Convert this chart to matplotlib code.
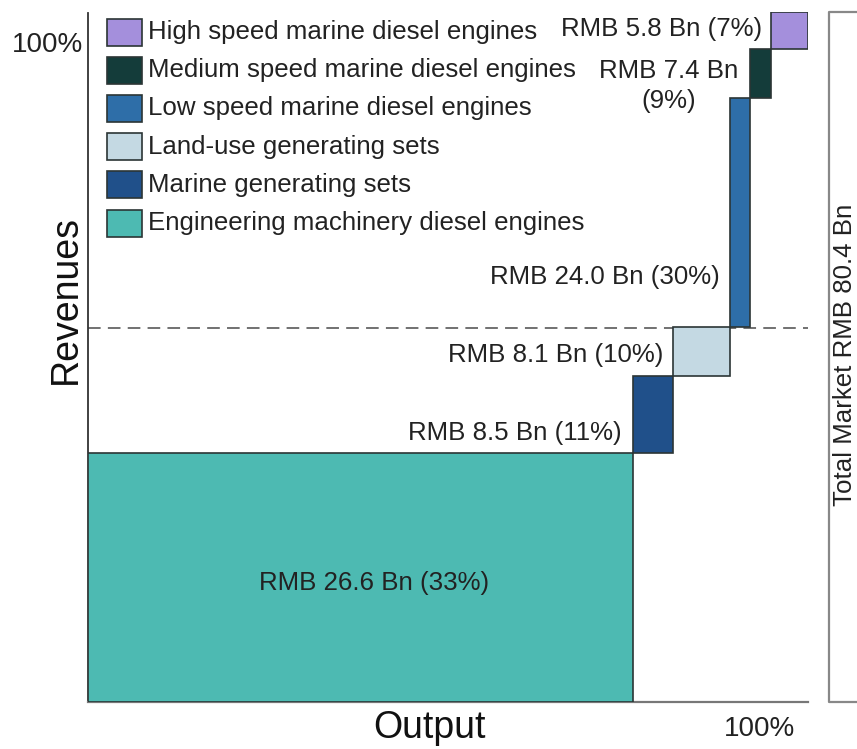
import matplotlib
matplotlib.use("Agg")
import matplotlib.pyplot as plt
from matplotlib.patches import Rectangle
import numpy as np

plt.rcParams['font.family'] = ['Liberation Sans', 'DejaVu Sans']

# dane: udzial w produkcji (szerokosc) i w przychodach (wysokosc)
categories = ["Engineering machinery diesel engines", "Marine generating sets",
              "Land-use generating sets", "Low speed marine diesel engines",
              "Medium speed marine diesel engines", "High speed marine diesel engines"]
output_share = [0.757, 0.056, 0.079, 0.028, 0.028, 0.052]
revenue_share = [0.361, 0.112, 0.070, 0.332, 0.071, 0.054]
revenue_bn = [26.6, 8.5, 8.1, 24.0, 7.4, 5.8]
revenue_pct = [33, 11, 10, 30, 9, 7]
colors = ["#4dbab2", "#20508a", "#c4d9e3", "#2e6ea8", "#143c3a", "#a48fdc"]
total_bn = 80.4
threshold = 0.542  # linia przerywana

W, H = 857, 749
fs = 18.6
fig = plt.figure(figsize=(W / 100, H / 100), dpi=100)
ax = fig.add_axes([88 / W, 47 / H, 720 / W, 690 / H])
ax.set_xlim(0, 1)
ax.set_ylim(0, 1)

x_left = np.concatenate([[0], np.cumsum(output_share)[:-1]])
y_bottom = np.concatenate([[0], np.cumsum(revenue_share)[:-1]])

for x0, y0, w, h, c in zip(x_left, y_bottom, output_share, revenue_share, colors):
    ax.add_patch(Rectangle((x0, y0), w, h, facecolor=c, edgecolor="#2b3535", lw=1.2, zorder=3))

ax.axhline(threshold, color="#666666", lw=1.3, ls=(0, (7, 4)), zorder=2)

# etykiety (przesuniecia w pikselach od rogu prostokata)
text_kw = dict(fontsize=fs, color="#222222", textcoords="offset pixels", va="center")
labels = [f"RMB {v:.1f} Bn ({p}%)" for v, p in zip(revenue_bn, revenue_pct)]
ax.annotate(labels[0], (x_left[0] + output_share[0] / 2, revenue_share[0] / 2),
            xytext=(14, -6), ha="center", **text_kw)
ax.annotate(labels[1], (x_left[1], y_bottom[1]), xytext=(-11, 20), ha="right", **text_kw)
ax.annotate(labels[2], (x_left[2], y_bottom[2]), xytext=(-10, 21), ha="right", **text_kw)
ax.annotate(labels[3], (x_left[3], y_bottom[3]), xytext=(-10, 50), ha="right", **text_kw)
ax.annotate(f"RMB {revenue_bn[4]:.1f} Bn\n({revenue_pct[4]}%)", (x_left[4], y_bottom[4]),
            xytext=(-82, 12), ha="center", multialignment="center", linespacing=1.3, **text_kw)
ax.annotate(labels[5], (x_left[5], y_bottom[5]), xytext=(-8, 20), ha="right", **text_kw)

for s in ["top", "right"]:
    ax.spines[s].set_visible(False)
ax.spines["left"].set_color("#333333")
ax.spines["left"].set_bounds(0, 0.998)
ax.spines["bottom"].set_color("#777777")
ax.spines["left"].set_linewidth(1.3)
ax.spines["bottom"].set_linewidth(1.6)
ax.set_xticks([])
ax.set_yticks([])

# legenda rysowana recznie
for i, idx in enumerate(range(len(categories) - 1, -1, -1)):
    yc = 32 + i * 38.2
    fig.add_artist(Rectangle((107 / W, 1 - (yc + 13.5) / H), 35 / W, 27 / H,
                             facecolor=colors[idx], edgecolor="#2b3535", lw=1.2,
                             transform=fig.transFigure))
    fig.text(148 / W, 1 - yc / H, categories[idx], fontsize=fs, color="#222222", va="center")

# opisy osi
fig.text(66 / W, 1 - 300 / H, "Revenues", fontsize=27, rotation=90, ha="center", va="center", color="#111111")
fig.text(430 / W, 1 - 728 / H, "Output", fontsize=27, ha="center", va="center", color="#111111")
fig.text(48 / W, 1 - 45 / H, "100%", fontsize=20, ha="center", va="center", color="#222222")
fig.text(759 / W, 1 - 729 / H, "100%", fontsize=20, ha="center", va="center", color="#222222")

# klamra z calkowita wartoscia rynku
fig.add_artist(plt.Line2D([857 / W, 829 / W, 829 / W, 857 / W],
                          [1 - 12 / H, 1 - 12 / H, 1 - 702 / H, 1 - 702 / H],
                          color="#888888", lw=1.6, transform=fig.transFigure))
fig.text(845 / W, 1 - 355 / H, f"Total Market RMB {total_bn} Bn", fontsize=fs, rotation=90,
         ha="center", va="center", color="#222222")

fig.savefig("out.png", dpi=100)
